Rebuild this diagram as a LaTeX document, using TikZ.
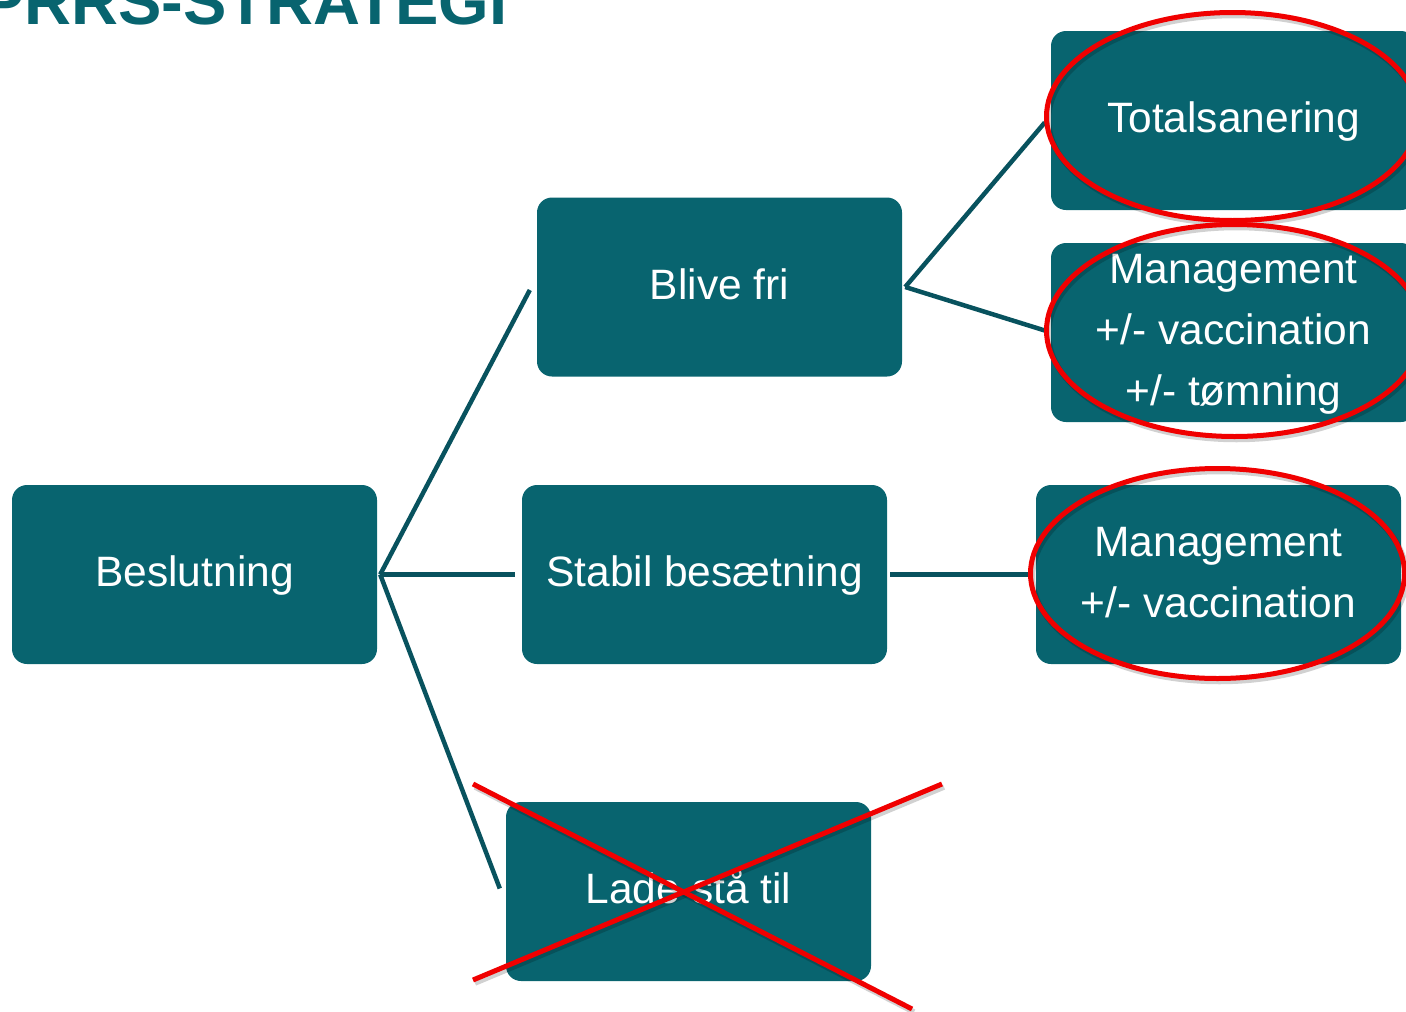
\documentclass[tikz,border=0pt]{standalone}
\usepackage{fontspec}
\setmainfont{Liberation Sans}
\usetikzlibrary{calc}
\definecolor{boxteal}{RGB}{8,100,111}
\definecolor{lineteal}{RGB}{8,82,94}
\definecolor{markred}{RGB}{240,0,0}
\newcommand\bs{\rule[-13pt]{0pt}{50pt}}
\begin{document}
\begin{tikzpicture}[x=1pt,y=-1pt,
  box/.style={fill=boxteal, rounded corners=15pt, minimum width=365pt, minimum height=179pt,
    inner sep=0pt, align=center, text=white, font=\fontsize{42.5}{61}\selectfont},
  conn/.style={draw=lineteal, line width=4.5pt},
  redmark/.style={draw=markred, line width=5pt},
  redshadow/.style={draw=black, opacity=0.18, line width=5.5pt}]
\useasboundingbox (0,0) rectangle (1406,1012);
\clip (0,0) rectangle (1406,1012);
\node[anchor=base west, inner sep=0pt, text=boxteal, font=\fontsize{65}{65}\selectfont\bfseries] (title) at (-19,24) {PRRS-STRATEGI};
\node[box] (besl) at (194.5,574.5) {\bs Beslutning};
\node[box] (blive) at (719.5,287) {\bs Blive fri};
\node[box] (stabil) at (704.5,574.5) {\bs Stabil besætning};
\node[box] (lade) at (688.5,891.5) {\bs Lade stå til};
\node[box] (total) at (1233.5,120.5) {\bs Totalsanering};
\node[box] (mgmt1) at (1233.5,332.5) {\bs Management\\\bs +/- vaccination\\\bs +/- tømning};
\node[box] (mgmt2) at (1218.5,574.5) {\bs Management\\\bs +/- vaccination};
% connectors
\draw[conn] ($(besl.east)+(3,0)$) -- ($(blive.west)+(-7,3)$);
\draw[conn] ($(besl.east)+(3,0)$) -- ($(stabil.west)+(-7,0)$);
\draw[conn] ($(besl.east)+(3,0)$) -- ($(lade.west)+(-6,-3)$);
\draw[conn] ($(blive.east)+(3,0)$) -- ($(total.west)+(-6,2)$);
\draw[conn] ($(blive.east)+(3,0)$) -- ($(mgmt1.west)+(-6,-2)$);
\draw[conn] ($(stabil.east)+(3,0)$) -- ($(mgmt2.west)+(-6,0)$);
% red ellipses
\draw[redshadow] ($(total.center)+(1,-1)$) ellipse [x radius=186, y radius=104];
\draw[redmark] ($(total.center)+(-1,-4)$) ellipse [x radius=186, y radius=104];
\draw[redshadow] ($(mgmt1.center)+(3,1)$) ellipse [x radius=188, y radius=106];
\draw[redmark] ($(mgmt1.center)+(1,-2)$) ellipse [x radius=188, y radius=106];
\draw[redshadow] ($(mgmt2.center)+(1,2)$) ellipse [x radius=187, y radius=105];
\draw[redmark] ($(mgmt2.center)+(-1,-1)$) ellipse [x radius=187, y radius=105];
% red cross
\draw[redshadow] (475,787) -- (914,1012);
\draw[redshadow] (475,983) -- (944,787);
\draw[redmark] (473,784) -- (912,1009);
\draw[redmark] (473,980) -- (942,784);
\end{tikzpicture}
\end{document}
